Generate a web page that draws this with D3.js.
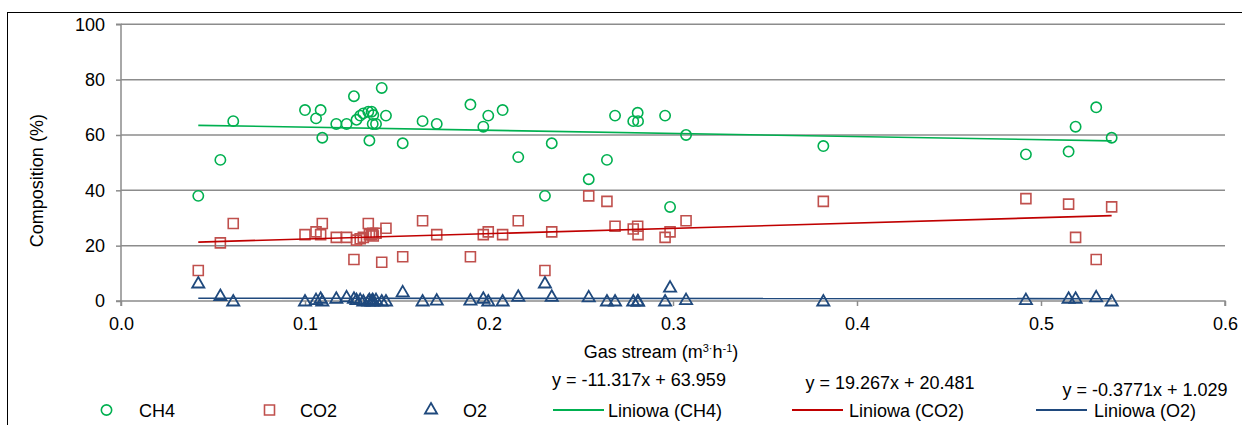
<!DOCTYPE html>
<html>
<head>
<meta charset="utf-8">
<script src="https://cdn.jsdelivr.net/npm/d3@7"></script>
<style>
  body { margin: 0; background: #fff; }
  svg text { font-family: "Liberation Sans", Arial, sans-serif; fill: #000; }
</style>
</head>
<body>
<svg width="1242" height="425"></svg>
<script>
"use strict";

// samples: gas stream (m3/h) and composition (%) of each gas
const gasStream = [0.042, 0.054, 0.061, 0.100, 0.106, 0.1085, 0.1094, 0.117, 0.1226, 0.1266,
    0.128, 0.130, 0.1317, 0.1344, 0.135, 0.1362, 0.1368, 0.1371, 0.1386, 0.1417,
    0.144, 0.1531, 0.1639, 0.1716, 0.1899, 0.1969, 0.1996, 0.2074, 0.2159, 0.2304,
    0.2341, 0.2542, 0.2641, 0.2685, 0.2784, 0.2808, 0.281, 0.2957, 0.2984, 0.3071,
    0.3817, 0.4918, 0.515, 0.5188, 0.530, 0.5384];
const ch4 = [38, 51, 65, 69, 66, 69, 59, 64, 64, 74,
    65.5, 67, 67.8, 68.4, 58, 68.4, 64, 67.2, 64, 77,
    67, 57, 65, 64, 71, 63, 67, 69, 52, 38,
    57, 44, 51, 67, 65, 68, 65, 67, 34, 60,
    56, 53, 54, 63, 70, 59];
const co2 = [11, 21, 28, 24, 25, 24, 28, 23, 23, 15,
    22, 22.5, 23, 28, 24, 24, 24.5, 23.5, 24.5, 14,
    26.3, 16, 29, 24, 16, 24, 25, 24, 29, 11,
    25, 38, 36, 27, 26, 27, 24, 23, 25, 29,
    36, 37, 35, 23, 15, 34];
const o2 = [6.5, 2, 0, 0, 0.5, 1, 0, 1, 1.5, 1,
    0.5, 0.5, 0, 0, 0.5, 0, 0.5, 0, 0.5, 0,
    0, 3.3, 0, 0.3, 0.3, 1, 0, 0, 1.7, 6.5,
    1.7, 1.5, 0, 0, 0, 0, 0, 0, 5, 0.5,
    0, 0.5, 1, 1, 1.5, 0];

const seriesNames = ["CH4", "CO2", "O2"];
const trendSlope = [-11.317, 19.267, -0.3771];
const trendIntercept = [63.959, 20.481, 1.029];
const trendLabels = ["y = -11.317x + 63.959", "y = 19.267x + 20.481", "y = -0.3771x + 1.029"];
const xTicks = [0, 0.1, 0.2, 0.3, 0.4, 0.5, 0.6];
const yTicks = [0, 20, 40, 60, 80, 100];

const markerColor = ["#00b050", "#c0504d", "#1f497d"];
const lineColor = ["#00b050", "#c00000", "#1f497d"];
const values = [ch4, co2, o2];

const svg = d3.select("svg");
const gridColor = "#8c8c8c";

// outer frame
svg.append("rect")
    .attr("x", 7.5).attr("y", 12.5)
    .attr("width", 1400).attr("height", 600)
    .attr("fill", "none").attr("stroke", "#000").attr("stroke-width", 1);

const x = d3.scaleLinear().domain([0, 0.6]).range([121, 1225]);
const y = d3.scaleLinear().domain([0, 100]).range([301, 24.3]);

// horizontal grid
svg.append("g")
    .selectAll("line")
    .data(yTicks.filter(d => d > 0))
    .enter()
    .append("line")
    .attr("x1", x(0)).attr("x2", x(0.6))
    .attr("y1", d => y(d)).attr("y2", d => y(d))
    .attr("stroke", gridColor).attr("stroke-width", 1.5);

// x axis
let xAxis = svg.append("g")
    .attr("transform", `translate(0, ${y(0)})`)
    .call(d3.axisBottom(x).tickValues(xTicks).tickFormat(d3.format(".1f")).tickSize(5).tickPadding(10));
xAxis.select(".domain").attr("stroke", gridColor).attr("stroke-width", 1.5)
    .attr("d", `M${x(0)},5V0H${x(0.6)}V5`);
xAxis.selectAll(".tick line").attr("stroke", gridColor).attr("stroke-width", 1.5);
xAxis.selectAll(".tick text").attr("font-size", 18).attr("font-family", "Liberation Sans, Arial").attr("dy", "0.75em");

// y axis
let yAxis = svg.append("g")
    .attr("transform", `translate(${x(0)}, 0)`)
    .call(d3.axisLeft(y).tickValues(yTicks).tickSize(5).tickPadding(11));
yAxis.select(".domain").attr("stroke", gridColor).attr("stroke-width", 1.5)
    .attr("d", `M-5,${y(100)}H0V${y(0)}H-5`);
yAxis.selectAll(".tick line").attr("stroke", gridColor).attr("stroke-width", 1.5);
yAxis.selectAll(".tick text").attr("font-size", 18).attr("font-family", "Liberation Sans, Arial");

// axis titles
svg.append("text")
    .text("Composition (%)")
    .attr("font-size", 18)
    .attr("text-anchor", "middle")
    .attr("transform", `translate(43, ${(y(0) + y(100)) / 2 + 18}) rotate(-90)`);

let xTitle = svg.append("text")
    .attr("x", 661).attr("y", 358)
    .attr("font-size", 18)
    .attr("text-anchor", "middle");
xTitle.append("tspan").text("Gas stream (m");
xTitle.append("tspan").text("3").attr("font-size", 11).attr("dy", -6);
xTitle.append("tspan").text("·").attr("font-size", 11).attr("dy", 0);
xTitle.append("tspan").text("h").attr("dy", 6);
xTitle.append("tspan").text("-1").attr("font-size", 11).attr("dy", -6);
xTitle.append("tspan").text(")").attr("dy", 6);

// marker drawing
const symbolTypes = [d3.symbolCircle, d3.symbolSquare, d3.symbolTriangle];
const symbolSizes = [84, 100, 64];
function drawMarker(g, i) {
    g.append("path")
        .attr("d", d3.symbol().type(symbolTypes[i]).size(symbolSizes[i])())
        .attr("fill", "none")
        .attr("stroke", markerColor[i])
        .attr("stroke-width", i == 2 ? 1.8 : 1.6);
}

const xMin = d3.min(gasStream), xMax = d3.max(gasStream);

// scatter points
values.forEach((vals, i) => {
    svg.append("g")
        .attr("class", "series_" + seriesNames[i])
        .selectAll("g")
        .data(vals)
        .enter()
        .append("g")
        .attr("transform", (d, k) => `translate(${x(gasStream[k])}, ${y(d) + (i == 2 ? 1 : 0)})`)
        .each(function() { drawMarker(d3.select(this), i); });
});

// linear trend lines
values.forEach((vals, i) => {
    svg.append("line")
        .attr("x1", x(xMin)).attr("x2", x(xMax))
        .attr("y1", y(trendSlope[i] * xMin + trendIntercept[i]))
        .attr("y2", y(trendSlope[i] * xMax + trendIntercept[i]))
        .attr("stroke", lineColor[i]).attr("stroke-width", 1.6);
});

// trend equations
const eqPos = [[639, 386], [890, 389], [1145, 396]];
trendLabels.forEach((t, i) => {
    svg.append("text")
        .text(t)
        .attr("x", eqPos[i][0]).attr("y", eqPos[i][1])
        .attr("font-size", 18)
        .attr("text-anchor", "middle");
});

// legend
const legendY = 410;
const markerLegendX = [106.5, 269.5, 431];
const markerTextX = [139, 300, 463];
const lineLegendX = [553, 792, 1036];
const lineTextX = [608, 849, 1094];
seriesNames.forEach((name, i) => {
    let g = svg.append("g").attr("transform", `translate(${markerLegendX[i]}, ${legendY})`);
    drawMarker(g, i);
    svg.append("text").text(name)
        .attr("x", markerTextX[i]).attr("y", legendY + 6.5)
        .attr("font-size", 18);

    svg.append("line")
        .attr("x1", lineLegendX[i]).attr("x2", lineLegendX[i] + 51)
        .attr("y1", legendY).attr("y2", legendY)
        .attr("stroke", lineColor[i]).attr("stroke-width", 1.8);
    svg.append("text").text("Liniowa (" + name + ")")
        .attr("x", lineTextX[i]).attr("y", legendY + 6.5)
        .attr("font-size", 18);
});
</script>
</body>
</html>
